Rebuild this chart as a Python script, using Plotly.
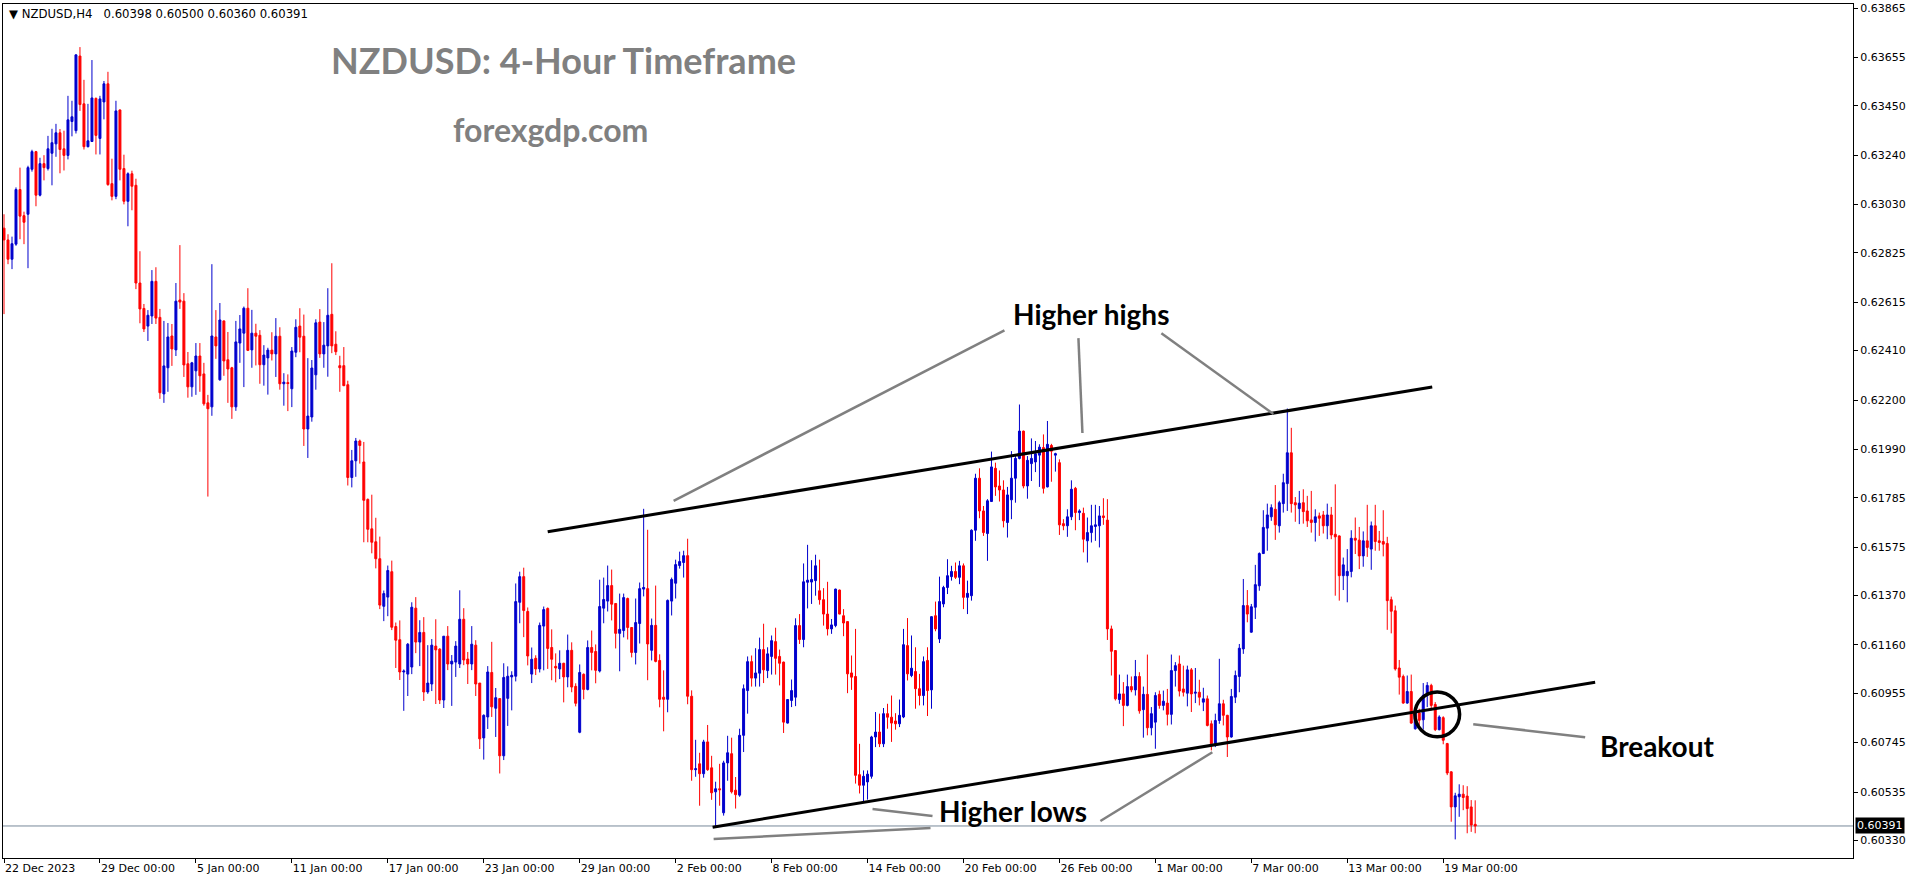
import plotly.graph_objects as go

# ---------------- data (NZDUSD H4, prices in points = 1e-5) ----------------
POINT = 1e-5
OPEN_PTS = [
62930,62880,62798,62862,63094,62983,62989,63180,63255,63070,
63204,63183,63248,63288,63335,63267,63239,63383,63344,63661,
63458,63276,63298,63481,63311,63466,63543,63119,63065,63432,
63183,63044,63161,63112,62697,62589,62514,62557,62704,62551,
62226,62337,62472,62413,62625,62620,62354,62256,62324,62387,
62311,62188,62171,62468,62286,62536,62371,62337,62171,62442,
62484,62590,62413,62484,62475,62350,62379,62412,62396,62471,
62269,62274,62248,62403,62514,62471,62077,62128,62307,62531,
62396,62430,62564,62437,62346,62346,62265,61871,61942,62026,
61937,61778,61653,61598,61526,61324,61363,61471,61238,61182,
61045,61036,61066,61316,61172,61213,60960,60994,61155,61142,
60926,61197,61079,61087,61079,61269,61100,61079,61159,60998,
60765,60854,61043,60891,60932,60689,60933,61024,61027,61341,
61450,61302,61036,61103,61058,61240,61315,61149,61069,61058,
61082,61024,61137,60984,60789,61035,60971,61149,61132,61049,
61316,61346,61412,61336,61209,61221,61357,61234,61128,61251,
61397,61399,61137,61243,61094,60938,60929,61346,61422,61497,
61510,61539,60942,60630,60655,60613,60748,60638,60536,60549,
60447,60659,60698,60543,60522,60776,60966,61089,61019,61040,
61140,61051,61111,61174,61111,61087,60828,60924,60938,61242,
61183,61426,61427,61433,61390,61352,61291,61228,61242,61393,
61284,61259,61041,61026,60609,60564,60578,60602,60769,60790,
60740,60868,60853,60837,60825,60854,61157,61030,61047,60974,
60945,61094,60969,61284,61185,61334,61404,61450,61472,61447,
61496,61362,61369,61647,61868,61729,61633,61769,61910,61835,
61818,61680,61776,61868,61952,62068,61835,61930,61937,61966,
61998,61831,62007,61966,61934,61675,61666,61704,61825,61722,
61719,61602,61637,61663,61666,61708,61690,61228,61136,60928,
60952,60903,60983,60969,61026,60885,60950,60808,60832,60950,
60903,60913,60865,61051,61079,60973,60955,61054,60955,60959,
60917,60931,60825,60740,60839,60910,60861,60769,60938,61026,
61143,61327,61214,61320,61411,61548,61656,61704,61736,61666,
61760,61845,61976,61764,61739,61764,61729,61691,61680,61708,
61712,61666,61712,61630,61623,61454,61454,61472,61613,61605,
61538,61602,61567,61666,61602,61599,61591,61352,61305,61062,
61026,60913,60962,60804,60871,60842,60946,60988,60907,60800,
60851,60741,60621,60472,60515,60526,60518,60472,60398]
HIGH_PTS = [
62989,62904,62894,63103,63187,63000,63195,63263,63258,63229,
63240,63322,63352,63373,63351,63344,63492,63471,63668,63699,
63560,63458,63644,63485,63492,63555,63594,63225,63471,63434,
63242,63167,63174,63140,62832,62608,62582,62752,62764,62587,
62536,62527,62523,62697,62858,62654,62404,62362,62442,62442,
62358,62222,62777,62582,62612,62538,62489,62341,62536,62561,
62597,62675,62583,62524,62497,62433,62422,62488,62548,62509,
62314,62309,62425,62543,62590,62563,62378,62370,62543,62586,
62531,62675,62781,62492,62388,62425,62282,61988,62039,62032,
62022,61782,61798,61700,61620,61391,61497,61518,61255,61264,
61056,61168,61341,61363,61265,61278,61159,61185,61269,61146,
61197,61240,61117,61176,61392,61316,61130,61240,61180,60998,
60865,61070,61173,60977,60932,61082,61069,61048,61421,61471,
61488,61319,61149,61116,61255,61323,61319,61226,61124,61137,
61084,61204,61171,60997,61077,61039,61179,61221,61162,61437,
61446,61497,61480,61338,61378,61378,61361,61236,61357,61425,
61738,61649,61272,61412,61120,61052,61353,61446,61522,61556,
61560,61611,60967,60757,60702,60757,60820,60689,60579,60655,
60668,60774,60766,60599,60804,60992,61111,61115,61146,61191,
61250,61150,61200,61233,61140,61089,60930,61013,61273,61291,
61506,61585,61520,61543,61522,61401,61428,61270,61399,61395,
61312,61261,61115,61228,60740,60627,60627,60774,60875,60868,
60892,60910,60945,60870,60928,61228,61274,61200,61150,61037,
61111,61150,61282,61344,61450,61411,61524,61496,61510,61517,
61506,61433,61651,61887,61910,61750,61779,61981,61934,61901,
61859,61831,61983,61966,62181,62070,61962,62037,62026,62012,
62054,62111,62014,61976,61948,61694,61736,61859,61831,61736,
61743,61701,61755,61755,61750,61783,61779,61242,61138,61034,
61002,61034,61026,61096,61044,60983,61119,60896,60959,60966,
60966,60973,61119,61087,61115,61072,61072,61062,61062,61012,
60978,60945,60839,60868,61101,60927,60863,60973,61051,61164,
61440,61393,61334,61500,61553,61732,61760,61757,61839,61772,
61887,62164,62082,61788,61814,61821,61793,61814,61736,61722,
61729,61760,61746,61842,61625,61531,61567,61647,61701,61661,
61642,61755,61684,61755,61644,61732,61619,61365,61327,61096,
61034,61030,61034,60896,60889,60998,61002,60995,60917,60861,
60857,60744,60623,60532,60568,60564,60560,60501,60500]
LOW_PTS = [
62565,62777,62756,62855,62883,62862,62760,63170,63023,63065,
63133,63175,63112,63233,63163,63175,63222,63320,63332,63428,
63264,63273,63296,63243,63243,63392,63110,63048,63053,63133,
63031,62938,63006,62671,62526,62489,62451,62523,62523,62205,
62188,62235,62345,62387,62587,62298,62210,62214,62222,62235,
62176,61790,62133,62375,62282,62303,62188,62120,62154,62358,
62255,62408,62337,62347,62269,62261,62223,62368,62298,62244,
62176,62153,62170,62382,62403,62005,61954,62108,62244,62379,
62337,62299,62399,62391,62235,62259,61837,61829,61874,61930,
61596,61596,61549,61485,61312,61261,61282,61223,61062,61011,
60880,60943,61036,61125,61070,60922,60952,60964,60909,60909,
60892,61053,60901,61024,61062,61074,60994,61053,60943,60718,
60673,60803,60854,60769,60614,60671,60816,60882,61005,61252,
61193,61073,60998,61032,61043,61052,61058,61010,61001,61015,
60916,60980,60959,60899,60785,60929,60967,61052,60997,61043,
61252,61302,61264,61145,61048,61192,61183,61107,61077,61166,
61366,61010,61094,61086,60895,60793,60874,61285,61357,61484,
61446,60908,60583,60600,60477,60596,60625,60502,60388,60477,
60435,60583,60529,60465,60515,60705,60868,60983,60983,60983,
60998,61019,61034,61034,60988,60786,60826,60896,60900,61164,
61150,61315,61334,61369,61331,61242,61200,61207,61235,61290,
61197,60955,60969,60571,60529,60493,60503,60592,60726,60726,
60726,60804,60748,60800,60811,60849,61009,61023,60889,60903,
60903,60858,60889,61218,61168,61320,61376,61433,61440,61418,
61312,61291,61348,61602,61698,61623,61517,61767,61793,61769,
61659,61616,61694,61764,61948,61825,61781,61856,61894,61831,
61803,61829,61853,61896,61627,61647,61619,61690,61647,61690,
61553,61510,61595,61602,61574,61670,61181,61030,60924,60910,
60815,60899,60959,60945,60868,60766,60776,60776,60719,60889,
60882,60818,60822,60983,60941,60941,60899,60875,60913,60903,
60879,60814,60712,60726,60825,60818,60684,60766,60913,60959,
61122,61256,61212,61270,61390,61546,61560,61687,61606,61637,
61722,61729,61722,61683,61673,61675,61661,61637,61599,61623,
61633,61609,61609,61369,61348,61393,61341,61447,61546,61482,
61492,61534,61479,61560,61560,61536,61224,61209,61051,60949,
60910,60910,60825,60800,60818,60800,60896,60882,60794,60797,
60738,60607,60409,60334,60430,60458,60360,60366,60360]
CLOSE_PTS = [
62880,62798,62864,63094,62981,62955,63187,63255,63070,63204,
63187,63267,63293,63335,63264,63239,63390,63403,63666,63455,
63276,63301,63483,63324,63479,63543,63115,63065,63428,63180,
63044,63161,63108,62697,62587,62502,62560,62704,62548,62231,
62345,62468,62417,62620,62616,62349,62256,62358,62387,62303,
62184,62163,62472,62430,62540,62366,62332,62171,62447,62502,
62590,62411,62484,62471,62350,62391,62412,62396,62471,62269,
62276,62270,62408,62509,62467,62077,62132,62336,62528,62396,
62433,62560,62430,62405,62337,62261,61871,61942,62026,62007,
61774,61651,61596,61526,61329,61378,61476,61235,61180,61045,
61049,61163,61320,61172,61213,60960,60998,61159,61139,60926,
61197,61079,61091,61155,61269,61096,61079,61163,60994,60761,
60861,61045,60897,60936,60689,61022,61027,61031,61344,61450,
61306,61113,61099,61058,61243,61310,61145,61099,61062,61082,
61024,61137,60981,60912,61043,60971,61149,61128,61052,61323,
61353,61412,61333,61209,61226,61361,61234,61128,61255,61399,
61404,61164,61243,61090,60929,60929,61349,61438,61501,61514,
61539,60942,60630,60634,60613,60748,60630,60532,60549,60545,
60659,60702,60536,60524,60776,60974,61089,61019,61041,61140,
61054,61122,61178,61103,61082,60832,60928,60966,61242,61183,
61428,61435,61438,61496,61352,61291,61228,61245,61397,61291,
61253,61037,61023,60606,60564,60602,60611,60769,60790,60740,
60868,60853,60828,60825,60861,61161,61037,61061,60974,60945,
61089,60966,61280,61228,61344,61404,61454,61472,61447,61496,
61362,61379,61647,61868,61729,61637,61772,61916,61831,61818,
61687,61797,61868,61952,62068,61835,61944,61952,61972,62000,
61825,62012,61983,61972,61670,61666,61704,61821,61722,61729,
61609,61637,61666,61670,61708,61701,61228,61133,60931,60952,
60903,60983,60969,61026,60880,60950,60808,60868,60945,60903,
60921,60865,61051,61072,60964,60959,61054,60952,60959,60938,
60931,60818,60740,60839,60910,60861,60769,60941,61030,61146,
61327,61291,61322,61416,61548,61659,61712,61743,61670,61764,
61849,61976,61760,61755,61762,61726,61687,61680,61704,61698,
61666,61712,61627,61619,61454,61500,61472,61613,61605,61538,
61602,61574,61666,61599,61595,61588,61348,61303,61058,61023,
60913,60962,60828,60882,60840,60946,60988,60903,60800,60854,
60755,60616,60472,60519,60526,60512,60465,60395,60391]

X_TICK_BARS = [0, 24, 48, 72, 96, 120, 144, 168, 192, 216, 240, 264, 288, 312, 336, 360]
X_TICK_LABELS = ["22 Dec 2023", "29 Dec 00:00", "5 Jan 00:00", "11 Jan 00:00", "17 Jan 00:00",
                 "23 Jan 00:00", "29 Jan 00:00", "2 Feb 00:00", "8 Feb 00:00", "14 Feb 00:00",
                 "20 Feb 00:00", "26 Feb 00:00", "1 Mar 00:00", "7 Mar 00:00", "13 Mar 00:00",
                 "19 Mar 00:00"]
Y_TICK_LABELS = ["0.63865", "0.63655", "0.63450", "0.63240", "0.63030", "0.62825", "0.62615",
                 "0.62410", "0.62200", "0.61990", "0.61785", "0.61575", "0.61370", "0.61160",
                 "0.60955", "0.60745", "0.60535", "0.60330"]
LAST_PRICE = 0.60391
HEADER = "\u25BC NZDUSD,H4\u00a0\u00a0 0.60398 0.60500 0.60360 0.60391"

# annotation geometry in chart (bar index, price) coordinates
UPPER_TREND_X = [136, 357.25]
UPPER_TREND_Y = [0.61641, 0.62255]
LOWER_TREND_X = [177.25, 398]
LOWER_TREND_Y = [0.60386, 0.61001]
HIGHS_POINTERS = [((167.5, 0.61772), (250.25, 0.62496)),
                  ((268.75, 0.62463), (269.75, 0.62060)),
                  ((289.5, 0.62484), (317.5, 0.62141))]
LOWS_POINTERS = [((217.25, 0.60463), (232.25, 0.60433)),
                 ((177.5, 0.60336), (231.75, 0.60382)),
                 ((274.25, 0.60412), (302.25, 0.60704))]
BREAKOUT_POINTER = ((367.5, 0.60823), (395.5, 0.60768))
BREAKOUT_CIRCLE = dict(x0=352.9, x1=364.1, y0=0.60770, y1=0.60960)
LABELS = [("Higher highs", 272.0, 0.62564), ("Higher lows", 252.5, 0.60454), ("Breakout", 413.5, 0.60730)]

# ---------------- figure ----------------
bars = list(range(len(CLOSE_PTS)))
o = [v * POINT for v in OPEN_PTS]
h = [v * POINT for v in HIGH_PTS]
l = [v * POINT for v in LOW_PTS]
c = [v * POINT for v in CLOSE_PTS]

BLUE = "#0000CD"
RED = "#FF0000"

fig = go.Figure(go.Candlestick(
    x=bars, open=o, high=h, low=l, close=c,
    increasing=dict(line=dict(color=BLUE, width=1), fillcolor=BLUE),
    decreasing=dict(line=dict(color=RED, width=1), fillcolor=RED),
    whiskerwidth=0, showlegend=False, hoverinfo="skip",
))

shapes = []
shapes.append(dict(type="line", xref="paper", x0=0, x1=1, yref="y", y0=LAST_PRICE, y1=LAST_PRICE,
                   line=dict(color="#778899", width=1), layer="below"))
for xs, ys in [(UPPER_TREND_X, UPPER_TREND_Y), (LOWER_TREND_X, LOWER_TREND_Y)]:
    shapes.append(dict(type="line", xref="x", yref="y", x0=xs[0], x1=xs[1], y0=ys[0], y1=ys[1],
                       line=dict(color="black", width=3)))
for (p0, p1) in HIGHS_POINTERS + LOWS_POINTERS + [BREAKOUT_POINTER]:
    shapes.append(dict(type="line", xref="x", yref="y", x0=p0[0], y0=p0[1], x1=p1[0], y1=p1[1],
                       line=dict(color="#808080", width=2.5)))
shapes.append(dict(type="circle", xref="x", yref="y", line=dict(color="black", width=3.5),
                   **BREAKOUT_CIRCLE))

annotations = [
    dict(text=HEADER, xref="paper", yref="paper", x=0.0022, y=0.9883, xanchor="left", yanchor="middle",
         showarrow=False, font=dict(family="DejaVu Sans", size=11.7, color="black")),
    dict(text="<b>NZDUSD: 4-Hour Timeframe</b>", xref="paper", yref="paper", x=0.1761, y=0.9350,
         xanchor="left", yanchor="middle", showarrow=False,
         font=dict(family="Lato", size=36, color="#808080")),
    dict(text="<b>forexgdp.com</b>", xref="paper", yref="paper", x=0.2420, y=0.8525,
         xanchor="left", yanchor="middle", showarrow=False,
         font=dict(family="Lato", size=32, color="#808080")),
    dict(text="0.60391", xref="paper", yref="y", x=1, y=LAST_PRICE, xanchor="left", yanchor="middle",
         xshift=2, showarrow=False, bgcolor="black", borderpad=1,
         font=dict(family="DejaVu Sans", size=11, color="white")),
]
for txt, bx, py in LABELS:
    annotations.append(dict(text=f"<b>{txt}</b>", xref="x", yref="y", x=bx, y=py, xanchor="center",
                            yanchor="middle", showarrow=False,
                            font=dict(family="Lato", size=28, color="black")))

fig.update_layout(
    width=1916, height=884,
    margin=dict(l=2, r=63, t=2, b=26),
    plot_bgcolor="white", paper_bgcolor="white",
    boxgap=0.3,
    shapes=shapes, annotations=annotations,
    xaxis=dict(range=[-0.25, 462.5], tickvals=X_TICK_BARS, ticktext=X_TICK_LABELS,
               showgrid=False, zeroline=False, showline=True, mirror=True, linecolor="black",
               linewidth=1, ticks="outside", ticklen=4, tickcolor="black",
               ticklabelposition="outside right",
               tickfont=dict(family="DejaVu Sans", size=11, color="black"),
               rangeslider=dict(visible=False), fixedrange=True),
    yaxis=dict(range=[0.60255, 0.63882], side="right",
               tickvals=[float(t) for t in Y_TICK_LABELS], ticktext=Y_TICK_LABELS,
               ticklabeloverflow="allow",
               showgrid=False, zeroline=False, showline=True, mirror=True, linecolor="black",
               linewidth=1, ticks="outside", ticklen=4, tickcolor="black",
               tickfont=dict(family="DejaVu Sans", size=11, color="black"), fixedrange=True),
)

fig.write_html("out.html", config={"displayModeBar": False},
               post_script="document.body.style.margin='0';document.body.style.overflow='hidden';")
